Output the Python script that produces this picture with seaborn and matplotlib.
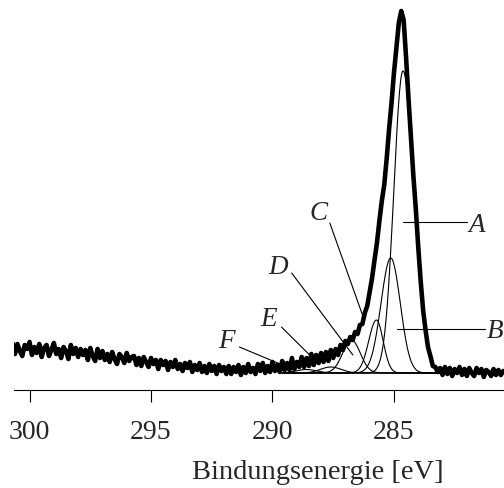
import numpy as np
import pandas as pd
import matplotlib
matplotlib.use("Agg")
import matplotlib.pyplot as plt
import seaborn as sns

# ---------------- data ----------------
# measured C1s spectrum, read off the picture (arbitrary units, 0.1 eV steps from 300.7 eV down)
spectrum_start = 300.7
spectrum_step = 0.1
intensity = [
    3.0, 1.9, 2.9, 2.2, 1.7, 2.8, 2.4, 3.1, 1.8, 2.6,      # 300.7 - 299.8
    2.0, 2.9, 1.6, 2.5, 2.8, 1.7, 2.3, 3.0, 1.9, 2.4,      # 299.7 - 298.8
    1.5, 2.6, 2.2, 1.4, 2.8, 1.9, 2.5, 1.6, 2.4, 1.8,      # 298.7 - 297.8
    2.3, 1.3, 2.5, 1.7, 1.2, 2.4, 1.5, 2.2, 1.3, 1.9,      # 297.7 - 296.8
    1.1, 2.1, 1.4, 0.9, 1.9, 1.6, 1.0, 2.0, 1.2, 1.6,      # 296.7 - 295.8
    1.7, 0.8, 1.5, 0.7, 1.6, 1.1, 0.6, 1.5, 0.9, 1.3,      # 295.7 - 294.8
    0.4, 1.3, 0.8, 1.2, 0.3, 1.1, 0.6, 1.3, 0.4, 0.9,      # 294.7 - 293.8
    0.2, 1.0, 0.5, 1.1, 0.1, 0.8, 0.3, 1.0, 0.1, 0.7,      # 293.7 - 292.8
    0.0, 0.9, 0.2, 0.7, -0.1, 0.8, 0.2, 0.6, -0.1, 0.7,    # 292.7 - 291.8
    -0.1, 0.6, 0.1, 0.8, -0.2, 0.6, 0.0, 0.9, 0.1, 0.5,    # 291.7 - 290.8
    -0.1, 0.9, 0.2, 1.0, 0.0, 0.7, 0.1, 1.1, 0.2, 0.8,     # 290.7 - 289.8
    0.1, 1.2, 0.3, 1.0, 0.3, 1.5, 0.4, 1.1, 0.6, 1.6,      # 289.7 - 288.8
    0.6, 1.5, 0.7, 1.9, 0.8, 1.8, 1.0, 2.0, 1.1, 2.1,      # 288.7 - 287.8
    1.2, 2.3, 1.5, 2.4, 1.8, 2.8, 2.3, 3.2, 2.9, 3.6,      # 287.7 - 286.8
    3.3, 4.1, 3.9, 4.8, 4.9, 6.0, 6.7, 8.1, 9.5, 11.3,     # 286.7 - 285.8
    13.0, 15.2, 17.2, 18.8, 21.4, 24.4, 27.0, 30.0, 32.5, 35.0,  # 285.7 - 284.8
    36.2, 35.3, 31.5, 27.4, 23.5, 19.7, 16.4, 12.6, 9.2, 6.3,    # 284.7 - 283.8
    4.3, 2.6, 1.7, 0.7, 0.6, 0.1, 0.5, -0.2, 0.6, -0.1,    # 283.7 - 282.8
    0.5, -0.3, 0.4, 0.0, 0.6, -0.2, 0.4, -0.3, 0.5, 0.0,   # 282.7 - 281.8
    -0.3, 0.5, 0.0, 0.4, -0.4, 0.3, 0.1, -0.3, 0.4, -0.2,  # 281.7 - 280.8
    0.3, -0.2, 0.2,                                        # 280.7 - 280.5
]

# fitted components (asymmetric Gaussians)
comp_names = ["A", "B", "C", "D", "E", "F"]
comp_center = [284.63, 285.13, 285.72, 286.75, 287.6, 288.6]   # eV
comp_height = [30.2, 11.5, 5.3, 3.3, 0.6, 0.35]
comp_fwhm_high = [0.88, 0.95, 0.75, 0.85, 1.0, 1.0]   # width on the high-energy side
comp_fwhm_low = [1.10, 0.92, 0.65, 0.85, 1.0, 1.0]    # width on the low-energy side
fit_range = (289.6, 283.1)

tick_values = [300, 295, 290, 285]
x_label = "Bindungsenergie [eV]"

# ---------------- build tables ----------------
energies = spectrum_start - spectrum_step * np.arange(len(intensity))
spec_df = pd.DataFrame({"E": energies, "I": intensity})

grid = np.linspace(fit_range[0], fit_range[1], 261)
rows = []
for n, c, h, wh, wl in zip(comp_names, comp_center, comp_height, comp_fwhm_high, comp_fwhm_low):
    d = grid - c
    w = np.where(d > 0, wh, wl)
    y = h * np.exp(-4 * np.log(2) * (d / w) ** 2)
    rows.append(pd.DataFrame({"E": grid, "I": y, "name": n}))
comp_df = pd.concat(rows, ignore_index=True)

# ---------------- plot ----------------
sns.set_style("white")
plt.rcParams["font.family"] = ["Liberation Serif", "DejaVu Serif"]

fig = plt.figure(figsize=(5.04, 4.88), dpi=100)
ax = fig.add_axes([14 / 504, 98 / 488, 490 / 504, 390 / 488])

sns.lineplot(data=comp_df, x="E", y="I", units="name", estimator=None,
             color="black", lw=0.8, ax=ax, sort=False)
sns.lineplot(data=spec_df, x="E", y="I", estimator=None, color="black",
             lw=3.3, ax=ax, sort=False)

# labels with leader lines (layout positions)
labels = [
    # text, text x, text y, ha, leader start, leader end
    ("A", 281.93, 14.7, "left", (281.98, 15.1), (284.63, 15.1)),
    ("B", 281.16, 4.2, "left", (281.24, 4.4), (284.88, 4.4)),
    ("C", 288.10, 15.9, "center", (287.64, 15.0), (286.28, 5.7)),
    ("D", 289.75, 10.5, "center", (289.21, 10.0), (286.69, 1.8)),
    ("E", 290.17, 5.4, "center", (289.63, 4.6), (288.47, 1.8)),
    ("F", 291.90, 3.1, "center", (291.36, 2.6), (289.59, 0.8)),
]
for txt, tx, ty, ha, p0, p1 in labels:
    ax.plot([p0[0], p1[0]], [p0[1], p1[1]], color="black", lw=0.8)
    ax.text(tx, ty, txt, fontsize=19.5, style="italic", ha=ha, va="center",
            clip_on=False)

ax.set_xlim(300.64, 280.47)
ax.set_ylim(-1.7, 37.3)
ax.set_xticks(tick_values)
ax.set_xticklabels([str(t) for t in tick_values])
ax.set_yticks([])
ax.set_ylabel("")
ax.set_xlabel(x_label, fontsize=20.5)
ax.xaxis.set_label_coords((318 - 14) / 490, -0.18)
ax.xaxis.label.set_va("top")
sns.despine(ax=ax, left=True, top=True, right=True)
ax.spines["bottom"].set_linewidth(0.8)
ax.spines["bottom"].set_color("black")
ax.tick_params(axis="x", direction="out", length=8.6, width=0.8, color="black",
               labelsize=20, pad=13, bottom=True)

fig.savefig("out.png", dpi=100)
